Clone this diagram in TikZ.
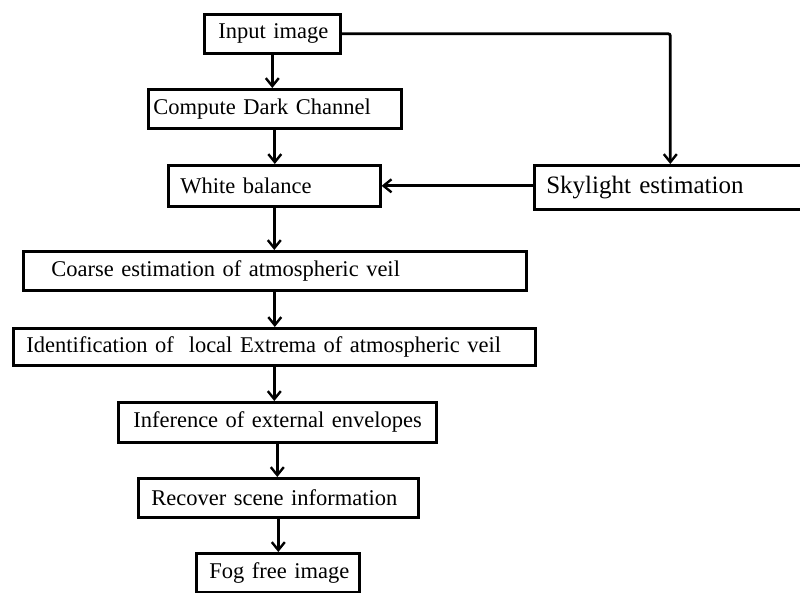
\documentclass[tikz,border=0pt]{standalone}
\usepackage{fontspec}
\setmainfont{Liberation Serif}
\usetikzlibrary{positioning,calc,arrows.meta}

\begin{document}
\begin{tikzpicture}[x=1pt,y=1pt,
  stepbox/.style={draw,line width=2.6pt,align=left,inner ysep=0pt,anchor=north west,
    font=\fontsize{22.5}{27}\selectfont,
    execute at begin node={\leavevmode\hbox\bgroup},execute at end node={\egroup}},
  flow/.style={-{Straight Barb[length=8pt,width=13pt,line width=2.4pt]},line width=2.8pt}]
\useasboundingbox (0,0) rectangle (800,-592);
% process boxes
\node[stepbox,inner xsep=14pt,text width=108pt,minimum height=39pt] (inp) at (203,-13) {Input image};
\node[stepbox,inner xsep=5pt,text width=243pt,minimum height=39pt] (dark) at (147,-88) {Compute Dark Channel};
\node[stepbox,inner xsep=12pt,text width=188pt,minimum height=41pt] (wb) at (167,-164) {White balance};
\node[stepbox,inner xsep=12pt,text width=248pt,minimum height=44pt,font=\fontsize{25}{29}\selectfont] (sky) at (533,-164) {Skylight estimation};
\node[stepbox,inner xsep=28pt,text width=447pt,minimum height=39pt] (coarse) at (22,-250) {Coarse estimation of atmospheric veil};
\node[stepbox,inner xsep=13pt,text width=496pt,minimum height=37pt] (ident) at (12,-327) {Identification of~ local Extrema of atmospheric veil};
\node[stepbox,inner xsep=15pt,text width=288pt,minimum height=40pt] (env) at (117,-401) {Inference of external envelopes};
\node[stepbox,inner xsep=13pt,text width=254pt,minimum height=39pt] (rec) at (137,-477) {Recover scene information};
\node[stepbox,inner xsep=13pt,text width=137pt,minimum height=39pt] (fog) at (195,-552) {Fog free image};
% connectors
\draw[flow] (inp.south) -- (inp.south |- dark.north);
\draw[flow] (dark.south) -- (dark.south |- wb.north);
\draw[flow] (wb.south) -- (wb.south |- coarse.north);
\draw[flow] (coarse.south) -- (coarse.south |- ident.north);
\draw[flow] (ident.south) -- (ident.south |- env.north);
\draw[flow] (env.south) -- (env.south |- rec.north);
\draw[flow] (rec.south) -- (rec.south |- fog.north);
\draw[flow,rounded corners=2pt] (inp.east) -| (sky.north);
\draw[flow] (sky.west |- wb.east) -- (wb.east);
\end{tikzpicture}
\end{document}
